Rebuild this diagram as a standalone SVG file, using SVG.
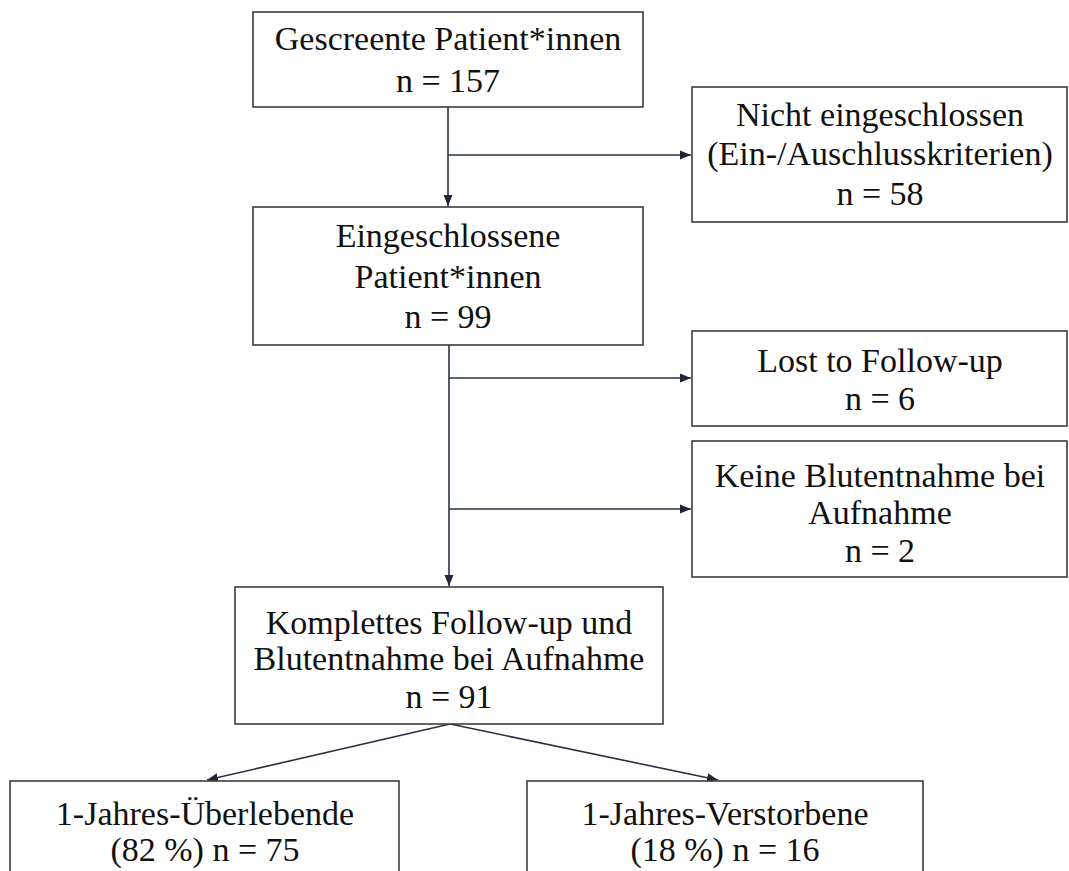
<svg xmlns="http://www.w3.org/2000/svg" width="1069" height="871" viewBox="0 0 1069 871">
<style>
.box{fill:#ffffff;stroke:#3c3c3c;stroke-width:1.6}
.t{font-family:"Liberation Serif","Times New Roman",serif;font-size:34px;fill:#111111;text-anchor:middle}
.c{fill:none;stroke:#2a3142;stroke-width:1.6}
</style>
<defs>
<marker id="ah" markerUnits="userSpaceOnUse" markerWidth="12" markerHeight="10" refX="11" refY="5" orient="auto">
<path d="M0,0.5 L11,5 L0,9.5 z" fill="#1f2638"/>
</marker>
</defs>
<rect width="1069" height="871" fill="#ffffff"/>
<g id="connectors">
<line class="c" x1="448" y1="107" x2="448" y2="206" marker-end="url(#ah)"/>
<line class="c" x1="448" y1="155" x2="691" y2="155" marker-end="url(#ah)"/>
<line class="c" x1="449" y1="345" x2="449" y2="586" marker-end="url(#ah)"/>
<line class="c" x1="449" y1="378" x2="691" y2="378" marker-end="url(#ah)"/>
<line class="c" x1="449" y1="509" x2="691" y2="509" marker-end="url(#ah)"/>
<line class="c" x1="450" y1="724" x2="207" y2="780" marker-end="url(#ah)"/>
<line class="c" x1="450" y1="724" x2="718" y2="780" marker-end="url(#ah)"/>
</g>
<g id="screened">
<rect class="box" x="253" y="12" width="390" height="95"/>
<text class="t" x="448" y="50">Gescreente Patient*innen</text>
<text class="t" x="448" y="92">n = 157</text>
</g>
<g id="not-included">
<rect class="box" x="692" y="87" width="375" height="135"/>
<text class="t" x="880" y="126">Nicht eingeschlossen</text>
<text class="t" x="880" y="165">(Ein-/Auschlusskriterien)</text>
<text class="t" x="880" y="205">n = 58</text>
</g>
<g id="included">
<rect class="box" x="253" y="207" width="390" height="138"/>
<text class="t" x="448" y="247">Eingeschlossene</text>
<text class="t" x="448" y="288">Patient*innen</text>
<text class="t" x="448" y="328">n = 99</text>
</g>
<g id="lost">
<rect class="box" x="692" y="331" width="375" height="95"/>
<text class="t" x="880" y="372">Lost to Follow-up</text>
<text class="t" x="880" y="410">n = 6</text>
</g>
<g id="no-blood">
<rect class="box" x="692" y="441" width="375" height="136"/>
<text class="t" x="880" y="487">Keine Blutentnahme bei</text>
<text class="t" x="880" y="524">Aufnahme</text>
<text class="t" x="880" y="562">n = 2</text>
</g>
<g id="complete">
<rect class="box" x="235" y="587" width="428" height="137"/>
<text class="t" x="449" y="634">Komplettes Follow-up und</text>
<text class="t" x="449" y="670">Blutentnahme bei Aufnahme</text>
<text class="t" x="449" y="708">n = 91</text>
</g>
<g id="survivors">
<rect class="box" x="10" y="781" width="389" height="110"/>
<text class="t" x="205" y="825">1-Jahres-Überlebende</text>
<text class="t" x="205" y="861">(82 %) n = 75</text>
</g>
<g id="deceased">
<rect class="box" x="527" y="781" width="396" height="110"/>
<text class="t" x="725" y="825">1-Jahres-Verstorbene</text>
<text class="t" x="725" y="861">(18 %) n = 16</text>
</g>
</svg>
